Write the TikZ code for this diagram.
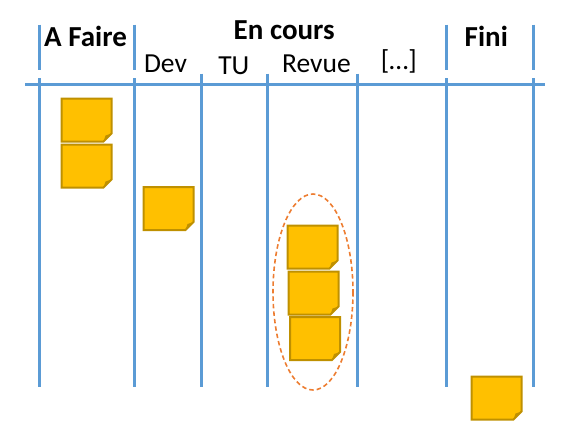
\documentclass[tikz,border=0pt]{standalone}
\usepackage{fontspec}
\setmainfont{Carlito}
\definecolor{laneblue}{HTML}{5B9BD5}
\definecolor{notefill}{HTML}{FFC000}
\definecolor{noteline}{HTML}{BF9000}
\definecolor{ringorange}{HTML}{ED7D31}
\tikzset{
  lane/.style={draw=laneblue,line width=3pt},
  headbold/.style={font=\fontsize{29}{31}\selectfont\bfseries,anchor=base,inner sep=0pt},
  headreg/.style={font=\fontsize{27.5}{29}\selectfont,anchor=base,inner sep=0pt},
  ring/.style={draw=ringorange,line width=1.6pt,dash pattern=on 4.5pt off 3pt},
  note/.pic={
    \filldraw[fill=notefill,draw=noteline,line width=2pt,line join=miter]
      (-25,-21.5) -- (25,-21.5) -- (25,13.5) -- (17,21.5) -- (-25,21.5) -- cycle;
    \fill[noteline] (25,13.5) -- (17,21.5) -- (19,15.5) -- cycle;
  }
}
\begin{document}
\begin{tikzpicture}[x=1pt,y=-1pt]
\useasboundingbox (0,0) rectangle (566,445);
% header separators
\foreach \x in {39,134.5,446,533} \draw[lane] (\x,24.5) -- (\x,70);
% column lines
\foreach \x in {39,134.5,446,533} \draw[lane] (\x,78) -- (\x,387);
\foreach \x in {201,267.5,357} \draw[lane] (\x,73.5) -- (\x,387);
% horizontal line
\draw[lane] (25,84) -- (545,84);
% headings
\node[headbold] (afaire) at (85.5,46.7) {A Faire};
\node[headbold] (encours) at (284.2,39.5) {En cours};
\node[headbold] (fini) at (486.3,46.5) {Fini};
\node[headreg] (dev) at (165.5,72.3) {Dev};
\node[headreg] (tu) at (233.8,74.5) {TU};
\node[headreg] (revue) at (316.5,72.5) {Revue};
\node[headreg] (etc) at (398.8,69.5) {[…]};
% sticky notes
\pic (na1) at (86.5,120) {note};
\pic (na2) at (86.5,166) {note};
\pic (nd1) at (168.5,208.5) {note};
\pic (nr1) at (312.5,247) {note};
\pic (nr2) at (313.5,293) {note};
\pic (nr3) at (315,338.5) {note};
\pic (nf1) at (496.5,398) {note};
% review group
\draw[ring] (313,292) ellipse [x radius=40, y radius=98];
\end{tikzpicture}
\end{document}
